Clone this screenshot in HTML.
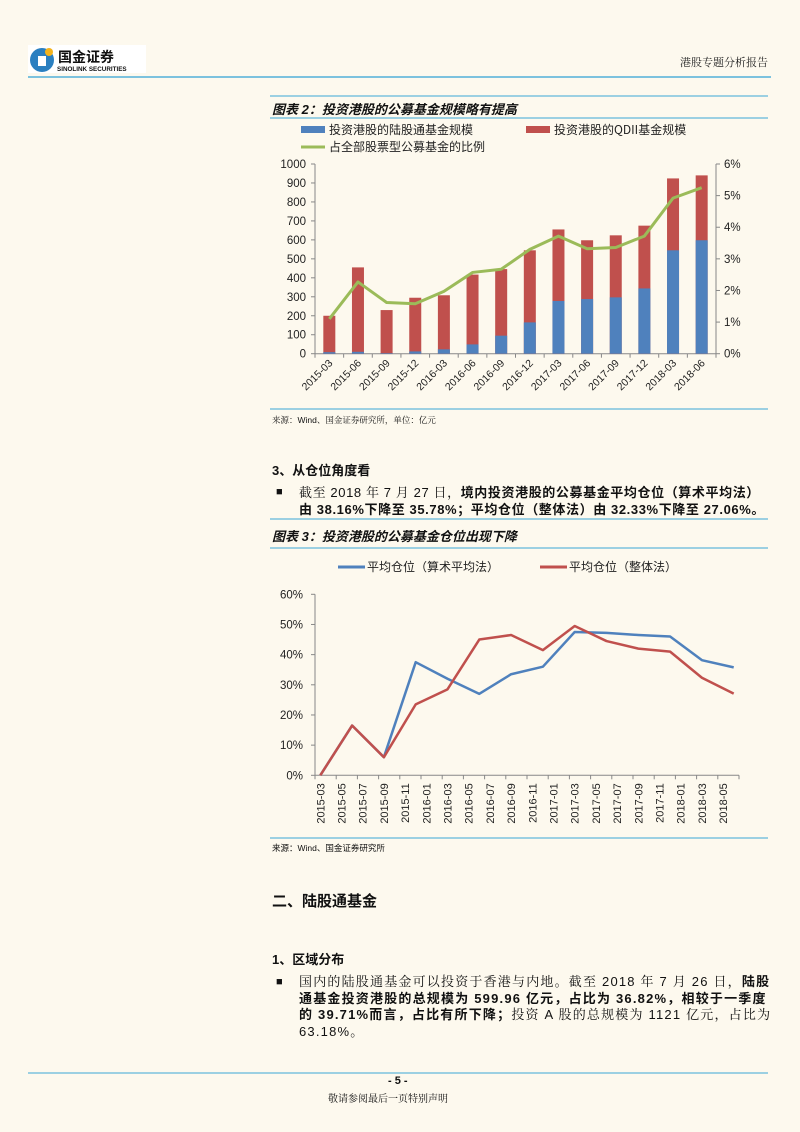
<!DOCTYPE html>
<html><head><meta charset="utf-8">
<style>
body{margin:0;background:#fdf9ee;}
#page{position:relative;width:800px;height:1132px;background:#fdf9ee;overflow:hidden;font-family:"Liberation Sans","Noto Sans CJK SC",sans-serif;color:#111;}
.t{position:absolute;white-space:nowrap;}
.body{font-family:"Liberation Sans","Noto Serif CJK SC",serif;}
.body b{font-family:"Liberation Sans","Noto Sans CJK SC",sans-serif;}
</style></head>
<body>
<div id="page">
<svg width="800" height="1132" style="position:absolute;left:0;top:0">
  <g>
    <rect x="28" y="45" width="118" height="28" fill="#fff"/>
    <circle cx="42" cy="60" r="12" fill="#2a7fc0"/>
    <rect x="38" y="56" width="8" height="10" fill="#fff"/>
    <circle cx="49" cy="52" r="4" fill="#f3b31d"/>
    <text x="58" y="62" font-size="14" font-weight="bold" font-family="Noto Sans CJK SC, sans-serif" fill="#111">国金证券</text>
    <text x="57" y="71" font-size="6.3" font-weight="bold" font-family="Liberation Sans, sans-serif" fill="#111">SINOLINK SECURITIES</text>
  </g>
  <line x1="28" y1="77" x2="771" y2="77" stroke="#7cc2de" stroke-width="2"/>
  <text x="768" y="66" text-anchor="end" font-size="11" font-family="Noto Serif CJK SC, serif" fill="#222">港股专题分析报告</text>

  <line x1="270" y1="96" x2="768" y2="96" stroke="#7cc2de" stroke-width="1.5"/>
  <line x1="270" y1="118" x2="768" y2="118" stroke="#7cc2de" stroke-width="1.5"/>
  <line x1="270" y1="409" x2="768" y2="409" stroke="#7cc2de" stroke-width="1.5"/>
  <line x1="270" y1="519" x2="768" y2="519" stroke="#7cc2de" stroke-width="1.5"/>
  <line x1="270" y1="548" x2="768" y2="548" stroke="#7cc2de" stroke-width="1.5"/>
  <line x1="270" y1="838" x2="768" y2="838" stroke="#7cc2de" stroke-width="1.5"/>
  <line x1="28" y1="1073" x2="768" y2="1073" stroke="#7cc2de" stroke-width="1.5"/>

  <g id="chart1"></g>
  <g id="chart2"></g>
</svg>

<div class="t" style="left:272px;top:99px;font-size:13px;font-weight:bold;font-style:italic;">图表 2：投资港股的公募基金规模略有提高</div>
<div class="t" style="left:272px;top:414px;font-size:8.5px;font-family:'Liberation Sans','Noto Serif CJK SC',serif;">来源：Wind、国金证券研究所，单位：亿元</div>
<div class="t" style="left:272px;top:460px;font-size:13px;font-weight:bold;">3、从仓位角度看</div>
<div class="t" style="left:276px;top:486px;font-size:11px;">■</div>
<div class="t body" style="left:299px;top:484px;font-size:13px;line-height:17px;letter-spacing:0.6px;">截至 2018 年 7 月 27 日，<b>境内投资港股的公募基金平均仓位（算术平均法）<br>由 38.16%下降至 35.78%；平均仓位（整体法）由 32.33%下降至 27.06%。</b></div>
<div class="t" style="left:272px;top:526px;font-size:13px;font-weight:bold;font-style:italic;">图表 3：投资港股的公募基金仓位出现下降</div>
<div class="t" style="left:272px;top:842px;font-size:8.5px;">来源：Wind、国金证券研究所</div>
<div class="t" style="left:272px;top:890px;font-size:15px;font-weight:bold;">二、陆股通基金</div>
<div class="t" style="left:272px;top:949px;font-size:13px;font-weight:bold;">1、区域分布</div>
<div class="t" style="left:276px;top:976px;font-size:11px;">■</div>
<div class="t body" style="left:299px;top:974px;font-size:13px;line-height:16.5px;letter-spacing:1.2px;">国内的陆股通基金可以投资于香港与内地。截至 2018 年 7 月 26 日，<b>陆股<br>通基金投资港股的总规模为 599.96 亿元，占比为 36.82%，相较于一季度<br>的 39.71%而言，占比有所下降；</b>投资 A 股的总规模为 1121 亿元，占比为<br>63.18%。</div>
<div class="t" style="left:388px;top:1075px;font-size:11px;font-weight:bold;">- 5 -</div>
<div class="t" style="left:328px;top:1090px;font-size:10px;font-family:'Noto Serif CJK SC',serif;">敬请参阅最后一页特别声明</div>

<script>
// Chart 1 data
const c1Categories = ["2015-03","2015-06","2015-09","2015-12","2016-03","2016-06","2016-09","2016-12","2017-03","2017-06","2017-09","2017-12","2018-03","2018-06"];
const c1Connect = [8,10,3,12,23,49,95,165,278,288,297,344,545,598];
const c1Total = [200,455,230,295,308,417,446,545,655,598,624,675,924,940];
const c1Ratio = [1.1,2.27,1.62,1.58,1.97,2.57,2.67,3.3,3.72,3.32,3.36,3.72,4.92,5.25];
const c1LeftTicks = [0,100,200,300,400,500,600,700,800,900,1000];
const c1RightTicks = [0,1,2,3,4,5,6];

// Chart 2 data
const c2Labels = ["2015-03","2015-05","2015-07","2015-09","2015-11","2016-01","2016-03","2016-05","2016-07","2016-09","2016-11","2017-01","2017-03","2017-05","2017-07","2017-09","2017-11","2018-01","2018-03","2018-05"];
const c2Arith = [0,16.5,6,37.5,32,27,33.5,36,47.5,47.2,46.5,46,38.16,35.78];
const c2Whole = [0,16.5,6,23.5,28.5,45,46.5,41.5,49.5,44.5,42,41,32.33,27.06];
const c2YTicks = [0,10,20,30,40,50,60];

const NS="http://www.w3.org/2000/svg";
function mk(parent,tag,attrs,text){const e=document.createElementNS(NS,tag);for(const k in attrs)e.setAttribute(k,attrs[k]);if(text!==undefined)e.textContent=text;parent.appendChild(e);return e;}

// ---- Chart 1 ----
(function(){
  const g=document.getElementById('chart1');
  const L=315,R=716,B=353.7,T=164;
  const bw=(R-L)/c1Categories.length;
  const yL=v=>B-(v/1000)*(B-T);
  const yR=v=>B-(v/6)*(B-T);
  const xC=i=>L+(i+0.5)*bw;
  mk(g,'line',{x1:L,y1:T,x2:L,y2:B,stroke:'#888'});
  mk(g,'line',{x1:R,y1:T,x2:R,y2:B,stroke:'#888'});
  mk(g,'line',{x1:L,y1:B,x2:R,y2:B,stroke:'#888'});
  c1LeftTicks.forEach(v=>{
    mk(g,'line',{x1:L-4,y1:yL(v),x2:L,y2:yL(v),stroke:'#888'});
    const t=mk(g,'text',{x:L-9,y:yL(v)+4,'text-anchor':'end','font-size':11.5,'font-family':'Liberation Sans, sans-serif',fill:'#222'},String(v));
    
    
  });
  c1RightTicks.forEach(v=>{
    mk(g,'line',{x1:R,y1:yR(v),x2:R+4,y2:yR(v),stroke:'#888'});
    const t=mk(g,'text',{x:R+8,y:yR(v)+4,'font-size':11.5,'font-family':'Liberation Sans, sans-serif',fill:'#222'},v+'%');
    
    
  });
  for(let i=0;i<=c1Categories.length;i++){mk(g,'line',{x1:L+i*bw,y1:B,x2:L+i*bw,y2:B+4,stroke:'#888'});}
  c1Categories.forEach((c,i)=>{
    const x=xC(i), w=12;
    const r=mk(g,'rect',{x:x-w/2,y:yL(c1Total[i]),width:w,height:yL(0)-yL(c1Total[i]),fill:'#c0504d'});
    
    
    const b=mk(g,'rect',{x:x-w/2,y:yL(c1Connect[i]),width:w,height:yL(0)-yL(c1Connect[i]),fill:'#4f81bd'});
    
    
    const t=mk(g,'text',{x:x+4,y:B+10,'text-anchor':'end','font-size':10.5,'font-family':'Liberation Sans, sans-serif',fill:'#222',transform:`rotate(-45 ${x+4} ${B+10})`},c);
    
    
  });
  const pts=c1Ratio.map((v,i)=>xC(i)+','+yR(v)).join(' ');
  const pl=mk(g,'polyline',{points:pts,fill:'none',stroke:'#9bbb59','stroke-width':3,'stroke-linejoin':'round'});
  
  
  const lg=mk(g,'g',{});
  
  
  mk(lg,'rect',{x:301,y:126,width:24,height:7,fill:'#4f81bd'});
  mk(lg,'text',{x:329,y:134,'font-size':12,'font-family':'Noto Sans CJK SC, sans-serif',fill:'#222'},'投资港股的陆股通基金规模');
  mk(lg,'rect',{x:526,y:126,width:24,height:7,fill:'#c0504d'});
  mk(lg,'text',{x:554,y:134,'font-size':12,'font-family':'Noto Sans CJK SC, sans-serif',fill:'#222'},'投资港股的QDII基金规模');
  mk(lg,'line',{x1:301,y1:147,x2:325,y2:147,stroke:'#9bbb59','stroke-width':3});
  mk(lg,'text',{x:329,y:151,'font-size':12,'font-family':'Noto Sans CJK SC, sans-serif',fill:'#222'},'占全部股票型公募基金的比例');
})();

// ---- Chart 2 ----
(function(){
  const g=document.getElementById('chart2');
  const L=315,R=739,B=775.3,T=594.3;
  const cw=(R-L)/c2Labels.length;
  const y=v=>B-(v/60)*(B-T);
  const xq=i=>L+(0.25+1.5*i)*cw;
  mk(g,'line',{x1:L,y1:T,x2:L,y2:B,stroke:'#888'});
  mk(g,'line',{x1:L,y1:B,x2:R,y2:B,stroke:'#888'});
  c2YTicks.forEach(v=>{
    mk(g,'line',{x1:L-4,y1:y(v),x2:L,y2:y(v),stroke:'#888'});
    const t=mk(g,'text',{x:L-12,y:y(v)+4,'text-anchor':'end','font-size':11.5,'font-family':'Liberation Sans, sans-serif',fill:'#222'},v+'%');
    
    
  });
  for(let i=0;i<=c2Labels.length;i++){mk(g,'line',{x1:L+i*cw,y1:B,x2:L+i*cw,y2:B+4,stroke:'#888'});}
  c2Labels.forEach((c,i)=>{
    const x=L+(0.25+i)*cw+4, yy=B+8;
    const t=mk(g,'text',{x:x,y:yy,'text-anchor':'end','font-size':11,'font-family':'Liberation Sans, sans-serif',fill:'#222',transform:`rotate(-90 ${x} ${yy})`},c);
    
    
  });
  const a=mk(g,'polyline',{points:c2Arith.map((v,i)=>xq(i)+','+y(v)).join(' '),fill:'none',stroke:'#4f81bd','stroke-width':2.5,'stroke-linejoin':'round'});
  
  
  const w=mk(g,'polyline',{points:c2Whole.map((v,i)=>xq(i)+','+y(v)).join(' '),fill:'none',stroke:'#c0504d','stroke-width':2.5,'stroke-linejoin':'round'});
  
  
  const lg=mk(g,'g',{});
  
  
  mk(lg,'line',{x1:338,y1:567,x2:365,y2:567,stroke:'#4f81bd','stroke-width':3});
  mk(lg,'text',{x:367,y:571,'font-size':12,'font-family':'Noto Sans CJK SC, sans-serif',fill:'#222'},'平均仓位（算术平均法）');
  mk(lg,'line',{x1:540,y1:567,x2:567,y2:567,stroke:'#c0504d','stroke-width':3});
  mk(lg,'text',{x:569,y:571,'font-size':12,'font-family':'Noto Sans CJK SC, sans-serif',fill:'#222'},'平均仓位（整体法）');
})();
</script>
</div>
</body></html>
